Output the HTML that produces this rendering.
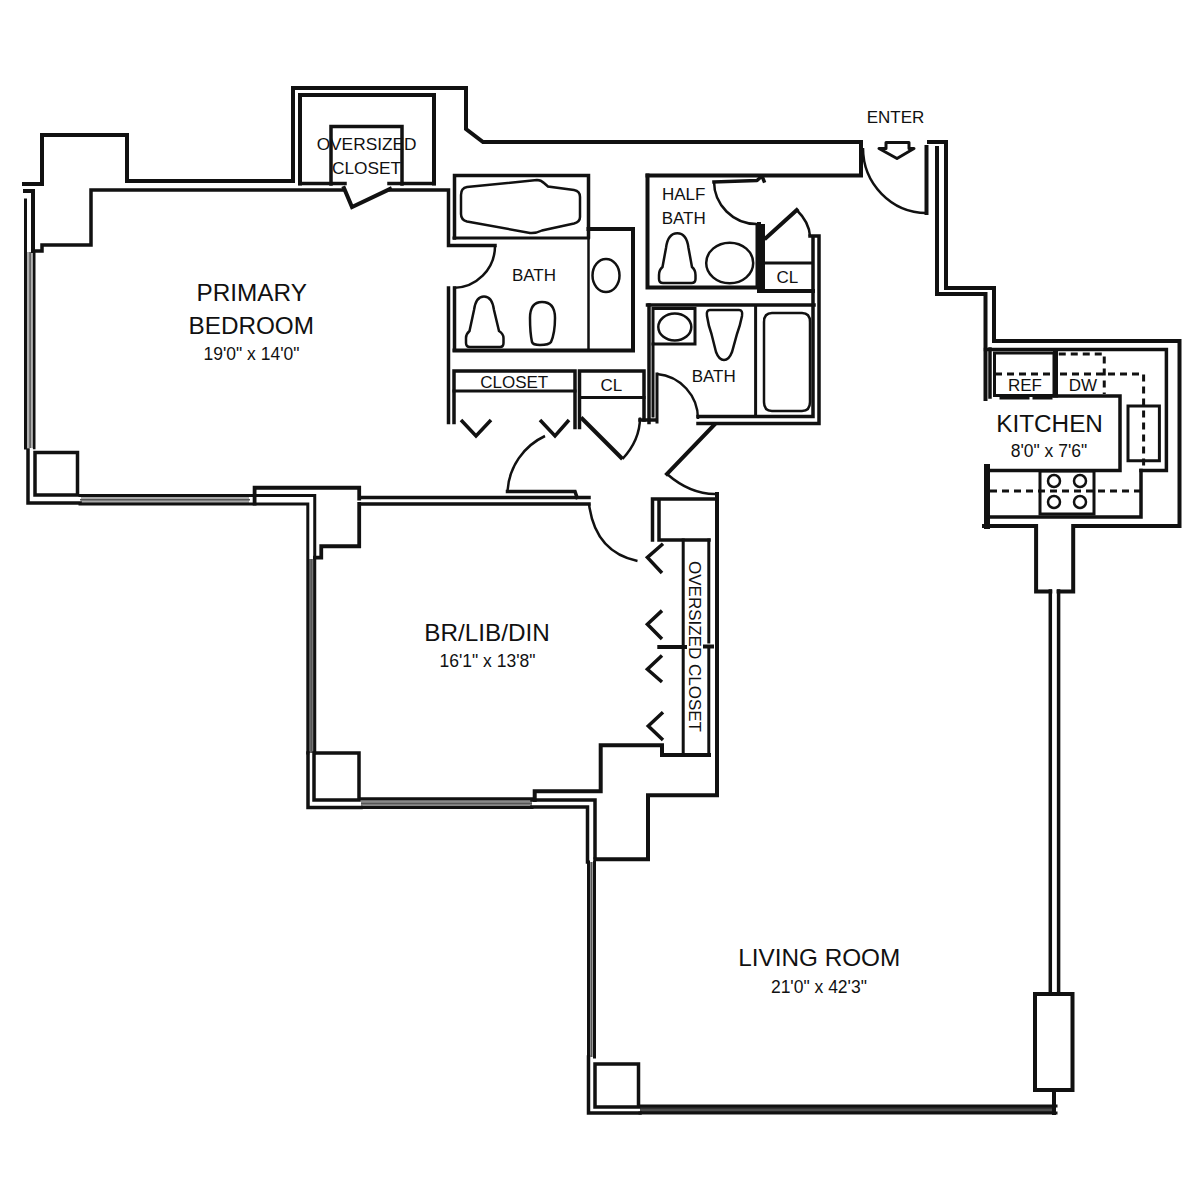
<!DOCTYPE html>
<html><head><meta charset="utf-8">
<style>
html,body{margin:0;padding:0;background:#fff;width:1200px;height:1200px;overflow:hidden}
svg{display:block}
text{font-family:"Liberation Sans",sans-serif;fill:#111}
</style></head><body>
<svg width="1200" height="1200" viewBox="0 0 1200 1200">
<g stroke="none">
<rect x="26" y="252" width="8" height="196" fill="#b0b0b0"/>
<rect x="81" y="496" width="168" height="8" fill="#a8a8a8"/>
<rect x="308" y="559" width="7" height="194" fill="#777"/>
<rect x="361" y="799" width="171" height="8" fill="#888"/>
<rect x="589" y="862" width="5" height="195" fill="#aaa"/>
<rect x="640" y="1107" width="414" height="6" fill="#333"/>
</g>
<g fill="none" stroke="#555" stroke-width="1.5">
<path d="M30.1,252 V448 M80,499.7 H250 M311.3,559 V753 M361,803.4 H532 M591.4,862 V1057 M640,1110 H1054"/>
</g>
<g fill="none" stroke="#111" stroke-width="4" stroke-linejoin="miter" stroke-linecap="square">
<path d="M24,184 H42 V135 H127 V181 H293 V88 H466 V129 L483,142 H861 V175.5 H647.5"/>
<path d="M33,251 V191 H25"/>
<path d="M33,251 H42 V245 H91 V190 H344" stroke-width="3.5"/>
<path d="M390,190 H448.5 V245.5 H495" stroke-width="3.5"/>
<path d="M344,188 L352,207 L390,189"/>
<path d="M300,183.5 V95 H434 V183.5"/>
<path d="M300,183.5 H345 M389,183.5 H434" stroke-width="3.5"/>
<path d="M331,184 V126.5 H402 V184" stroke-width="3.5"/>
<path d="M25.5,200 V448" stroke-width="3"/><path d="M34.2,252 V448" stroke-width="2.6"/>
<path d="M28,450 V503 H80" stroke-width="3.5"/>
<path d="M35,452.5 H77.5 V495 H35 Z" stroke-width="3.5"/>
<path d="M80,495.5 H314.75 V557.6 M80,503.9 H307.8 V753" stroke-width="3"/>
<path d="M254.6,503.5 V487.75 H359.2 V498.6 M359.2,504 V546.25 H321.25 V557.6 H315" stroke-width="3.8"/>

<path d="M360,497.5 H589 M360,504 H589" stroke-width="3.5"/>
<path d="M507.5,491.5 H575 L577,497.5" stroke-width="3.5"/>
<path d="M314.75,557.5 V753" stroke-width="3"/>
<path d="M308,753 V807.5 H361" stroke-width="3.5"/>
<path d="M314,753 H359 V800 H314 Z" stroke-width="3.5"/>
<path d="M361,798.7 H532 M361,807.5 H532" stroke-width="3"/>
<path d="M532,807 H587.5 V862 M532,800 H595 V858" stroke-width="3.5"/>
<path d="M534.7,800 V791.3 H600.7 V745.3 H662 V755 H709"/>
<path d="M717,494 V795.3 H648 V859.3 H595.5"/>
<path d="M588.5,862 V1057 M594.5,862 V1057" stroke-width="3"/>
<path d="M588.5,1057 V1113 H640" stroke-width="3.5"/>
<path d="M595,1064 H638.5 V1107 H595 Z" stroke-width="3.5"/>
<path d="M640,1106 H1056 M640,1113 H1056" stroke-width="3"/>
<path d="M1054,1090 V1113"/>
<path d="M1035,994 H1072.5 V1090 H1035 Z"/>
<path d="M1050.3,591 V994 M1058.6,591 V994" stroke-width="3.5"/>
<path d="M1050.3,591.5 H1036.1 V526 H984 M1058.6,591.5 H1073.2 V526 H1179.5 V341 H994 V288 H946 V142 H929"/>
<path d="M937,148 V294 H985.5 V399"/>
<path d="M926.5,147 V213"/>
</g>
<g fill="none" stroke="#111" stroke-width="4" stroke-linejoin="miter" stroke-linecap="square">

<path d="M454.5,238 V175.5 H588.5 V237" stroke-width="3.5"/>
<path d="M454,238 H588.5" stroke-width="3"/>
<path d="M588.5,229 H633 V350.5 H454.5" />
<path d="M448.5,288 V422.5 M454.5,288 V350" stroke-width="3.5"/>
<path d="M588.5,237 V350" stroke-width="2.5"/>
<path d="M454,422.5 V371 H575 V427.5" stroke-width="3.5"/>
<path d="M454,391 H575" stroke-width="3"/>
<path d="M579.5,427.5 V371 H644 V420" stroke-width="3.5"/>
<path d="M580,397.5 H644" stroke-width="3"/>
<path d="M649,305 V422.5" stroke-width="3.5"/><path d="M653,344 V416 M657,374 V422" stroke-width="3"/>
<path d="M640,420 H656" stroke-width="3.5"/>
<path d="M647.5,175.5 V287.5 H757.5 V225"/>
<path d="M759,224 V291 H813 M763,226 V290" stroke-width="4"/>
<path d="M765,263 H812" stroke-width="3"/>
<path d="M766,238 L796.7,210" />
<path d="M714,182 L757,180.5 L762,176 L764,181" stroke-width="3.5" stroke-linejoin="round"/>
<path d="M647.5,305 H814" stroke-width="3.5"/>
<path d="M653,308.5 H695 V344 H653 Z" stroke-width="3"/>
<path d="M755.6,306 V416.5" stroke-width="3"/>
<path d="M810,236 H819 V423.5 H698 M698,416.5 H813 V236" stroke-width="3.5"/>
<path d="M714,425 L667,474" />
<path d="M652.5,499 H717 M659,540 H709 M652.5,500 V540 M659,500 V540" stroke-width="3.5"/>
<path d="M683.2,540 V754 M708.8,540 V642 M708.8,649 V754" stroke-width="3"/>
<path d="M659.3,647 H685 M705,646.5 H712" stroke-width="4"/>
<path d="M985.5,349.6 H1166.4 V470.4 H1141" stroke-width="3.5"/>
<path d="M990,349 V397" stroke-width="3.5"/><path d="M987,467 V526" stroke-width="6"/>
<path d="M994.5,353 H1054 V395.5 H994.5 Z" stroke-width="3"/>
<path d="M1055.5,352 V395" stroke-width="5"/>
<path d="M1052,396 H1120 V470.4 H990 M988,517 H1141 V470.4" stroke-width="3.5"/>
<path d="M1040,471 H1094 V514 H1040 Z" stroke-width="3"/>
<path d="M1128,406 H1159.4 V460.7 H1128 Z" stroke-width="3"/>
<path d="M1001,398 H1028 M1034,398 H1051" stroke-width="3"/>
</g>
<g fill="none" stroke="#111" stroke-width="3" stroke-dasharray="7,5">
<path d="M1058.75,354 H1104.25 V394"/>
<path d="M995,374 H1052 M1060,374 H1143.6 V470"/>
<path d="M990,491 H1140"/>
</g>
<g fill="none" stroke="#111" stroke-width="2.5">
<circle cx="1054" cy="481" r="6"/><circle cx="1080" cy="481" r="6"/>
<circle cx="1054" cy="502" r="6"/><circle cx="1080" cy="502" r="6"/>
<path d="M495,246 A42,42 0 0 1 453,288"/>
<path d="M714,181.3 A42.7,42.7 0 0 0 756.7,224"/>
<path d="M796.7,210 Q809,222 810,236"/>
<path d="M863,148 A64,65 0 0 0 926.5,213"/>
<path d="M657,374 A45,45 0 0 1 698,419"/>
<path d="M667,474 Q690,494 715,494"/>
<path d="M545,436 A65,65 0 0 0 507.5,491"/>
<path d="M581,417.5 L622.5,459" stroke-width="4"/>
<path d="M622.5,459 Q640,440 640,417.5"/>
<path d="M589,504 Q595,552 637.5,561"/>
<path d="M461,195 Q461,188 467,187 L537,180 Q541,180 544,183 L548,186.5 L574,190 Q580,191 580,197 V217 Q580,222 574,223.5 L542,230.5 Q536,233.5 530,233 L467,221.5 Q461,220 461,214 Z"/>
<ellipse cx="606" cy="275.5" rx="13.5" ry="16.5"/>
<path d="M484,296.6 C478,296.6 475,303 474,310 L469.5,331 Q466,334 466,338 V343 Q466,347 470,347 H500 Q503.5,347 503.5,343 V338 Q503.5,334 499,331 L494,310 C493,303 490,296.6 484,296.6 Z"/>
<path d="M542,302 Q555,302 555,318 Q555,333 551,342 Q549,345 540,345 Q533,345 532,342 Q530,333 530,318 Q530,302 542,302 Z"/>
<path d="M677.3,233.3 C670,233.3 667,240 666,248 L662.5,267 Q659,270 659,275 V279 Q659,283 663,283 H691.5 Q695.5,283 695.5,279 V275 Q695.5,270 692,267 L688.5,248 C687.5,240 684.5,233.3 677.3,233.3 Z"/>
<ellipse cx="729.7" cy="263" rx="23.5" ry="20.3"/>
<ellipse cx="674.8" cy="327" rx="16.5" ry="13.5"/>
<path d="M710,310 H739 Q743,310 742,316 Q740,326 737,334 L732,352 Q729,360 724,360 Q719,360 716,352 L711.5,334 Q708.5,326 707,316 Q706,310 710,310 Z"/>
<path d="M772,313 H802 Q810,313 810,322 V402 Q810,411 802,411 H772 Q764,411 764,402 V322 Q764,313 772,313 Z"/>
</g>
<g fill="none" stroke="#111" stroke-width="3.5" stroke-linejoin="miter">
<path d="M461,420 L476,436 L491,420"/>
<path d="M540,420 L555,436 L569,420"/>
<path d="M663,543.7 L647.4,557.4 L662,573"/>
<path d="M662,610.6 L647.4,624.3 L662,639"/>
<path d="M662,655.5 L647.4,669.3 L662,682"/>
<path d="M663,712.3 L648.3,726 L663,740"/>
</g>
<path d="M886,142.5 H909 V148.5 H914 L897,158.5 L879,148.5 H886 Z" fill="none" stroke="#111" stroke-width="3" stroke-linejoin="round"/>
<g text-anchor="middle">
<text x="366.6" y="150" font-size="17.3">OVERSIZED</text>
<text x="366.6" y="174.3" font-size="17.3">CLOSET</text>
<text x="251.75" y="301" font-size="24.3">PRIMARY</text>
<text x="251.25" y="334" font-size="24.3">BEDROOM</text>
<text x="251.5" y="360" font-size="17.5">19'0" x 14'0"</text>
<text x="534" y="281" font-size="17">BATH</text>
<text x="683.7" y="200" font-size="17">HALF</text>
<text x="683.7" y="224" font-size="17">BATH</text>
<text x="787.4" y="282.7" font-size="17">CL</text>
<text x="713.75" y="382" font-size="17">BATH</text>
<text x="514.25" y="388" font-size="17">CLOSET</text>
<text x="611.25" y="391" font-size="17">CL</text>
<text x="895.5" y="123" font-size="17">ENTER</text>
<text x="1049.6" y="432" font-size="24.3">KITCHEN</text>
<text x="1049" y="456.5" font-size="17.5">8'0" x 7'6"</text>
<text x="1025" y="390.75" font-size="17">REF</text>
<text x="1082.8" y="390.75" font-size="17">DW</text>
<text x="487.1" y="641" font-size="24.3">BR/LIB/DIN</text>
<text x="487.5" y="667" font-size="17.5">16'1" x 13'8"</text>
<text x="819.25" y="966" font-size="24.3">LIVING ROOM</text>
<text x="818.9" y="993" font-size="17.5">21'0" x 42'3"</text>
</g>
<text transform="translate(688.7,561) rotate(90)" font-size="17">OVERSIZED CLOSET</text>
</svg>
</body></html>
